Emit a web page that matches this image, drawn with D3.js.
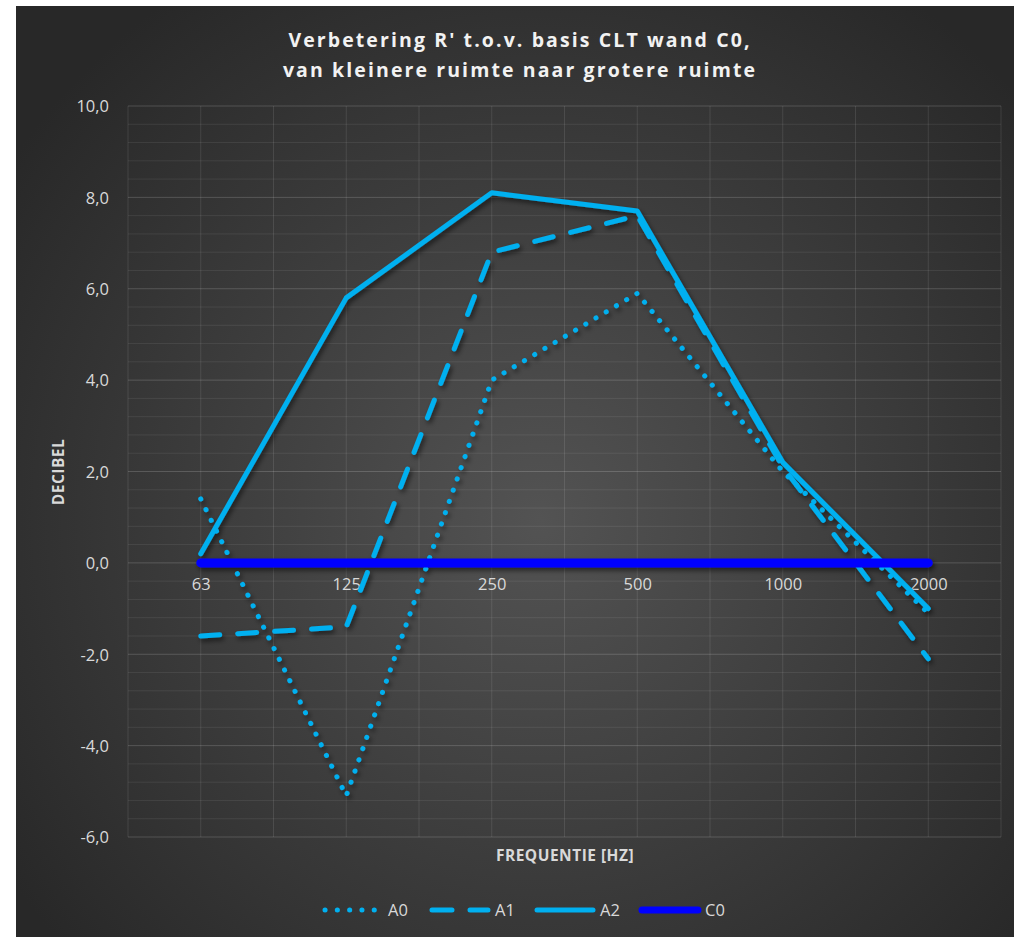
<!DOCTYPE html>
<html><head><meta charset="utf-8">
<script src="https://cdn.jsdelivr.net/npm/d3@7"></script>
<style>html,body{margin:0;padding:0;background:#fff;}svg{display:block;}</style>
</head><body>
<svg id="chart" width="1014" height="937"></svg>
<script>
const categories = ["63","125","250","500","1000","2000"];
const seriesNames = ["A0","A1","A2","C0"];
const A0 = [1.4, -5.1, 4.0, 5.9, 2.0, -1.1];
const A1 = [-1.6, -1.4, 6.8, 7.6, 2.1, -2.1];
const A2 = [0.2, 5.8, 8.1, 7.7, 2.2, -1.0];
const C0 = [0, 0, 0, 0, 0, 0];
const yTicks = [-6, -4, -2, 0, 2, 4, 6, 8, 10];
const titleLines = ["Verbetering R' t.o.v. basis CLT wand C0,", "van kleinere ruimte naar grotere ruimte"];

const svg = d3.select("#chart");
const defs = svg.append("defs");
const grad = defs.append("radialGradient").attr("id","bg").attr("gradientUnits","userSpaceOnUse")
  .attr("cx",540).attr("cy",520).attr("r",640);
grad.append("stop").attr("offset","0%").attr("stop-color","#535353");
grad.append("stop").attr("offset","100%").attr("stop-color","#282828");
const sh = defs.append("filter").attr("id","shadow").attr("x","-10%").attr("y","-10%").attr("width","120%").attr("height","120%");
sh.append("feDropShadow").attr("dx",2).attr("dy",3).attr("stdDeviation",2.5).attr("flood-color","#000").attr("flood-opacity",0.55);

svg.append("rect").attr("x",16).attr("y",6).attr("width",1014-16).attr("height",937-6).attr("fill","url(#bg)");

const L = 128, R = 1001, T = 106, B = 837;
const x = d3.scalePoint().domain(categories).range([L, R]).padding(0.5);
const step = x.step();
const y = d3.scaleLinear().domain([-6, 10]).range([B, T]);

// gridlines
const g = svg.append("g");
const minorY = d3.range(-6, 10.001, 0.4);
g.selectAll("line.hy").data(minorY).join("line")
  .attr("x1",L).attr("x2",R).attr("y1",d=>y(d)).attr("y2",d=>y(d))
  .attr("stroke", d => Math.abs(d/2 - Math.round(d/2))<1e-6 ? "rgba(255,255,255,0.17)" : "rgba(255,255,255,0.08)").attr("stroke-width",1);
const vx = [];
categories.forEach(c => { vx.push(x(c) - step/2); vx.push(x(c)); });
vx.push(R);
g.selectAll("line.vx").data(vx).join("line")
  .attr("x1",d=>d).attr("x2",d=>d).attr("y1",T).attr("y2",B)
  .attr("stroke","rgba(255,255,255,0.1)").attr("stroke-width",1);

const FONT = "'Open Sans', sans-serif";
// y axis labels
const yAxis = d3.axisLeft(y).tickValues(yTicks).tickSize(0).tickPadding(0)
  .tickFormat(d => d3.format(".1f")(d).replace(".", ",").replace("\u2212", "-"));
const ya = svg.append("g").attr("transform",`translate(${L-19},0)`).call(yAxis);
ya.select(".domain").remove();
ya.selectAll("text").attr("fill","#d9d9d9").attr("font-family",FONT).attr("font-size",16.5).attr("dy","0.35em");

// x axis labels (at y=0)
const xAxis = d3.axisBottom(x).tickSize(0).tickPadding(0);
const xa = svg.append("g").attr("transform",`translate(0,${y(0)+27})`).call(xAxis);
xa.select(".domain").remove();
xa.selectAll("text").attr("fill","#d9d9d9").attr("font-family",FONT).attr("font-size",16.5).attr("dy","0");

// lines
const line = d3.line().x((d,i)=>x(categories[i])).y(d=>y(d));
const styles = {
  A0: {data: A0, color:"#00b0f0", width:5, dash:"0.1,11.8", cap:"round"},
  A1: {data: A1, color:"#00b0f0", width:5, dash:"19,18", cap:"round"},
  A2: {data: A2, color:"#00b0f0", width:5, dash:null, cap:"round"},
  C0: {data: C0, color:"#0000ff", width:9, dash:null, cap:"round"}
};
const lg = svg.append("g").attr("filter","url(#shadow)");
seriesNames.forEach(n => {
  const s = styles[n];
  lg.append("path").attr("d", line(s.data)).attr("fill","none")
    .attr("stroke", s.color).attr("stroke-width", s.width)
    .attr("stroke-linecap", s.cap).attr("stroke-linejoin","round")
    .attr("stroke-dasharray", s.dash);
});

// title
const tt = svg.append("text").attr("text-anchor","middle").attr("fill","#f2f2f2")
  .attr("font-family",FONT).attr("font-weight","bold").attr("font-size",19.5)
  .attr("letter-spacing","2.1px");
titleLines.forEach((t,i)=> tt.append("tspan").attr("x",520).attr("y",47 + i*30).text(t));

// axis titles
svg.append("text").attr("transform","translate(64,472) rotate(-90)").attr("text-anchor","middle")
  .attr("fill","#d9d9d9").attr("font-family",FONT).attr("font-weight","bold").attr("font-size",15.5)
  .attr("letter-spacing","0.5px").text("DECIBEL");
svg.append("text").attr("x",565).attr("y",861).attr("text-anchor","middle")
  .attr("fill","#d9d9d9").attr("font-family",FONT).attr("font-weight","bold").attr("font-size",15.5)
  .attr("letter-spacing","0.5px").text("FREQUENTIE [HZ]");

// legend
const legX = [323, 430, 535, 640];
const leg = svg.append("g");
seriesNames.forEach((n,i) => {
  const s = styles[n];
  const x0 = legX[i], yy = 910;
  leg.append("line").attr("x1",x0+2).attr("x2",x0+(n==="A0"?52:58)).attr("y1",yy).attr("y2",yy)
    .attr("stroke",s.color).attr("stroke-width", n==="C0"?7:5).attr("stroke-linecap","round")
    .attr("stroke-dasharray", n==="A0" ? "0.1,12.2" : (n==="A1" ? "20,18" : null));
  leg.append("text").attr("x", x0+65).attr("y", yy).attr("dy","0.35em")
    .attr("fill","#d9d9d9").attr("font-family",FONT).attr("font-size",16.5).text(n);
});
</script>
</body></html>
